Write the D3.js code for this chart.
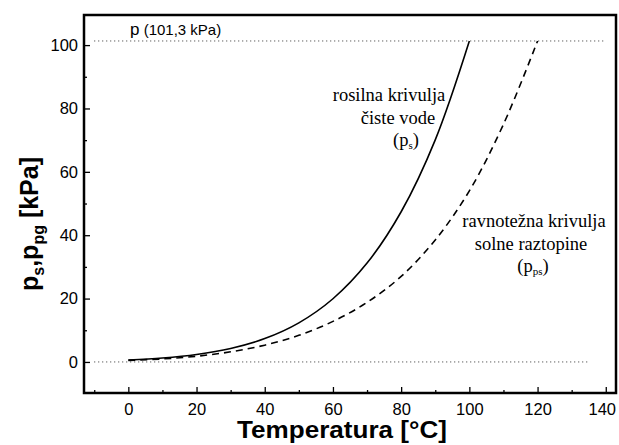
<!DOCTYPE html>
<html>
<head>
<meta charset="utf-8">
<script src="https://d3js.org/d3.v7.min.js"></script>
<style>
  body { margin: 0; background: #fff; }
  text { fill: #000; }
</style>
</head>
<body>
<script>
    // temperature [°C] and pressure [kPa]
    let tempWater = [0, 10, 20, 30, 40, 50, 60, 70, 80, 90, 100];
    let pWater = [0.61, 1.23, 2.34, 4.25, 7.38, 12.35, 19.95, 31.2, 47.4, 70.1, 101.3];
    let tempSalt = [0, 10, 20, 30, 40, 50, 60, 70, 80, 90, 100, 110, 120];
    let pSalt = [0.5, 0.95, 1.8, 3.2, 5.3, 8.4, 12.8, 18.8, 27, 38.5, 54, 75, 101.3];
    let xTicks = [0, 20, 40, 60, 80, 100, 120, 140];
    let xMinor = [-10, 10, 30, 50, 70, 90, 110, 130];
    let yTicks = [0, 20, 40, 60, 80, 100];
    let yMinor = [10, 30, 50, 70, 90];
    let pAtm = 101.3;

    let width = 619, height = 445;
    let svg = d3.select("body").append("svg")
        .attr("width", width)
        .attr("height", height);

    let x = d3.scaleLinear().domain([-13, 143]).range([84, 616]);
    let y = d3.scaleLinear().domain([-9.8, 109.5]).range([393, 15]);

    let sans = "'Liberation Sans', Arial, sans-serif";
    let serif = "'Liberation Serif', 'Times New Roman', serif";

    // reference dotted lines
    svg.append("line")
        .attr("x1", x(-10)).attr("x2", x(140))
        .attr("y1", y(pAtm)).attr("y2", y(pAtm))
        .attr("stroke", "#333").attr("stroke-width", 1)
        .attr("stroke-dasharray", "1,3");
    svg.append("line")
        .attr("x1", x(-10)).attr("x2", x(135))
        .attr("y1", y(0)).attr("y2", y(0))
        .attr("stroke", "#333").attr("stroke-width", 1)
        .attr("stroke-dasharray", "1,3");

    // axes, ticks pointing inward
    svg.append("g")
        .attr("transform", `translate(0,${y.range()[0]})`)
        .call(d3.axisBottom(x).tickValues(xTicks).tickSize(-6).tickPadding(10).tickFormat(d3.format("d")));
    svg.append("g")
        .attr("transform", `translate(0,${y.range()[0]})`)
        .call(d3.axisBottom(x).tickValues(xMinor).tickSize(-3).tickFormat(""));
    svg.append("g")
        .attr("transform", `translate(${x.range()[0]},0)`)
        .call(d3.axisLeft(y).tickValues(yTicks).tickSize(-6).tickPadding(6).tickFormat(d3.format("d")));
    svg.append("g")
        .attr("transform", `translate(${x.range()[0]},0)`)
        .call(d3.axisLeft(y).tickValues(yMinor).tickSize(-3).tickFormat(""));

    svg.selectAll(".domain").remove();
    svg.selectAll(".tick line").attr("stroke", "#000").attr("stroke-width", 1.3);
    svg.selectAll(".tick text")
        .attr("font-family", sans)
        .attr("font-size", 16.5)
        .attr("fill", "#000");
    // last x label sits a little left of its tick in the original
    svg.selectAll(".tick text").filter(d => d === 140).attr("x", -4);

    // frame
    svg.append("rect")
        .attr("x", x.range()[0]).attr("y", y.range()[1])
        .attr("width", x.range()[1] - x.range()[0])
        .attr("height", y.range()[0] - y.range()[1])
        .attr("fill", "none")
        .attr("stroke", "#000")
        .attr("stroke-width", 2.5);

    let line = d3.line()
        .x(d => x(d[0]))
        .y(d => y(d[1]))
        .curve(d3.curveCatmullRom.alpha(0.5));

    svg.append("path")
        .datum(d3.zip(tempWater, pWater))
        .attr("d", line)
        .attr("fill", "none")
        .attr("stroke", "#000")
        .attr("stroke-width", 1.6);

    svg.append("path")
        .datum(d3.zip(tempSalt, pSalt))
        .attr("d", line)
        .attr("fill", "none")
        .attr("stroke", "#000")
        .attr("stroke-width", 1.6)
        .attr("stroke-dasharray", "7,5");

    // atmospheric pressure label
    let pLab = svg.append("text")
        .attr("x", 130).attr("y", 35)
        .attr("font-family", sans)
        .attr("font-size", 15);
    pLab.append("tspan").attr("font-size", 17).text("p");
    pLab.append("tspan").text(" (101,3 kPa)");

    // curve labels
    function label(lines, cx, y0) {
        lines.forEach((l, i) => {
            let t = svg.append("text")
                .attr("x", cx[i]).attr("y", y0 + i * 22.5)
                .attr("text-anchor", "middle")
                .attr("font-family", serif)
                .attr("font-size", 18.5);
            if (Array.isArray(l)) {
                t.append("tspan").text(l[0]);
                t.append("tspan").attr("font-size", 11).attr("dy", 3).text(l[1]);
                t.append("tspan").attr("dy", -3).text(l[2]);
            } else {
                t.text(l);
            }
        });
    }
    label(["rosilna krivulja", "čiste vode", ["(p", "s", ")"]], [389, 398, 406], 101);
    label(["ravnotežna krivulja", "solne raztopine", ["(p", "ps", ")"]], [534, 531, 533], 227);

    // axis titles
    svg.append("text")
        .attr("x", 237).attr("y", 438)
        .attr("textLength", 210)
        .attr("lengthAdjust", "spacingAndGlyphs")
        .attr("font-family", sans)
        .attr("font-weight", "bold")
        .attr("font-size", 23)
        .text("Temperatura [°C]");

    let yt = svg.append("text")
        .attr("transform", "translate(38,224) rotate(-90)")
        .attr("text-anchor", "middle")
        .attr("font-family", sans)
        .attr("font-weight", "bold")
        .attr("font-size", 25);
    yt.append("tspan").text("p");
    yt.append("tspan").attr("font-size", 16).attr("dy", 6).text("s");
    yt.append("tspan").attr("dy", -6).text(",p");
    yt.append("tspan").attr("font-size", 16).attr("dy", 6).text("pg");
    yt.append("tspan").attr("dy", -6).text(" [kPa]");
</script>
</body>
</html>
